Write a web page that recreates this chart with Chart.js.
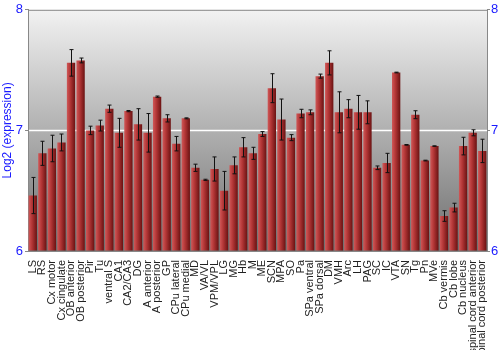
<!DOCTYPE html>
<html>
<head>
<meta charset="utf-8">
<script src="https://cdn.jsdelivr.net/npm/chart.js@4/dist/chart.umd.min.js"></script>
<style>
  html, body { margin: 0; padding: 0; background: #fff; }
  #wrap { width: 500px; height: 350px; }
</style>
</head>
<body>
<div id="wrap"><canvas id="chart"></canvas></div>
<script>
const regions = [
    'LS', 'RS', 'Cx motor', 'Cx cingulate', 'OB anterior', 'OB posterior', 'Pir', 'Tu',
    'ventral S', 'CA1', 'CA2/CA3', 'DG', 'A anterior', 'A posterior', 'GP', 'CPu lateral',
    'CPu medial', 'MD', 'VA/VL', 'VPM/VPL', 'LG', 'MG', 'Hb', 'M', 'ME', 'SCN', 'MPA', 'SO',
    'Pa', 'SPa ventral', 'SPa dorsal', 'DM', 'VMH', 'Arc', 'LH', 'PAG', 'SC', 'IC', 'VTA',
    'SN', 'Tg', 'Pn', 'MVe', 'Cb vermis', 'Cb lobe', 'Cb nucleus', 'spinal cord anterior',
    'spinal cord posterior'
];
const expression = [
    6.46, 6.81, 6.85, 6.90, 7.56, 7.58, 7.00, 7.04,
    7.18, 6.98, 7.16, 7.05, 6.98, 7.28, 7.10, 6.89,
    7.10, 6.69, 6.59, 6.68, 6.50, 6.71, 6.86, 6.81, 6.97, 7.35, 7.09, 6.94,
    7.14, 7.15, 7.45, 7.56, 7.15, 7.18, 7.15, 7.15, 6.69, 6.73, 7.48,
    6.88, 7.13, 6.75, 6.87, 6.29, 6.36, 6.87, 6.98,
    6.83
];
const stdErr = [
    0.15, 0.10, 0.11, 0.07, 0.11, 0.02, 0.035, 0.045,
    0.03, 0.12, 0.005, 0.13, 0.16, 0.005, 0.03, 0.06,
    0.004, 0.03, 0.005, 0.10, 0.16, 0.07, 0.08, 0.05, 0.02, 0.12, 0.17, 0.025,
    0.035, 0.02, 0.017, 0.10, 0.17, 0.075, 0.14, 0.095, 0.015, 0.08, 0.003,
    0.003, 0.033, 0.003, 0.002, 0.044, 0.036, 0.073, 0.025,
    0.097
];
const yTicks = [6, 7, 8];

const blue = '#1a1aff';
const frame = '#888888';
const barShare = 0.87;

// grey gradient behind the bars plus the white line at 7
const backdrop = {
    id: 'backdrop',
    beforeDraw(chart) {
        const { ctx, chartArea: a, scales } = chart;
        if (!a) return;
        const g = ctx.createLinearGradient(0, a.top, 0, a.bottom);
        g.addColorStop(0, '#f2f2f2');
        g.addColorStop(1, '#6e6e6e');
        ctx.save();
        ctx.fillStyle = g;
        ctx.fillRect(a.left, a.top, a.right - a.left, a.bottom - a.top);
        const y7 = scales.y.getPixelForValue(7);
        ctx.strokeStyle = '#ffffff';
        ctx.lineWidth = 1.5;
        ctx.beginPath();
        ctx.moveTo(a.left, y7);
        ctx.lineTo(a.right, y7);
        ctx.stroke();
        ctx.strokeStyle = frame;
        ctx.lineWidth = 1;
        ctx.beginPath();
        ctx.moveTo(a.left, a.top + 0.5);
        ctx.lineTo(a.right, a.top + 0.5);
        ctx.stroke();
        ctx.restore();
    }
};

// error bars drawn through the scales
const errorBars = {
    id: 'errorBars',
    afterDatasetsDraw(chart) {
        const { ctx, scales } = chart;
        ctx.save();
        ctx.strokeStyle = '#111111';
        ctx.lineWidth = 1;
        expression.forEach((v, i) => {
            const x = Math.round(scales.x.getPixelForValue(i)) + 0.5;
            const hi = scales.y.getPixelForValue(v + stdErr[i]);
            const lo = scales.y.getPixelForValue(v - stdErr[i]);
            ctx.beginPath();
            ctx.moveTo(x, hi);
            ctx.lineTo(x, lo);
            ctx.moveTo(x - 2, hi);
            ctx.lineTo(x + 2, hi);
            ctx.moveTo(x - 2, lo);
            ctx.lineTo(x + 2, lo);
            ctx.stroke();
        });
        ctx.restore();
    }
};

// horizontal shading on each bar, light on the left, dark on the right
function barFill(context) {
    const chart = context.chart;
    const xs = chart.scales && chart.scales.x;
    if (!chart.chartArea || !xs || !xs.width) return '#a83030';
    const w = xs.width / regions.length * barShare;
    const left = xs.getPixelForValue(context.dataIndex) - w / 2;
    const g = chart.ctx.createLinearGradient(left, 0, left + w, 0);
    g.addColorStop(0, '#d05858');
    g.addColorStop(0.4, '#b33636');
    g.addColorStop(1, '#6a1212');
    return g;
}

const ctx = document.getElementById('chart');
new Chart(ctx, {
    type: 'bar',
    data: {
        labels: regions,
        datasets: [{
            data: expression,
            backgroundColor: barFill,
            borderWidth: 0,
            barPercentage: barShare,
            categoryPercentage: 1.0,
            base: 6
        }]
    },
    options: {
        responsive: true,
        maintainAspectRatio: false,
        animation: false,
        layout: { padding: { top: 3, right: 0, left: 0, bottom: 0 } },
        plugins: {
            legend: { display: false },
            tooltip: { enabled: false }
        },
        scales: {
            x: {
                grid: { display: false },
                border: { color: frame },
                ticks: {
                    autoSkip: false,
                    minRotation: 90,
                    maxRotation: 90,
                    padding: 1,
                    color: '#222222',
                    font: { family: 'Liberation Sans, Arial, sans-serif', size: 11 }
                },
                afterFit(scale) { scale.height = 99; }
            },
            y: {
                position: 'left',
                min: 6,
                max: 8,
                afterBuildTicks(scale) { scale.ticks = yTicks.map(v => ({ value: v })); },
                grid: {
                    color: 'rgba(0,0,0,0)',
                    tickColor: frame,
                    tickLength: 3
                },
                border: { color: frame },
                ticks: {
                    color: blue,
                    padding: 2,
                    font: { family: 'Liberation Sans, Arial, sans-serif', size: 13 }
                },
                title: {
                    display: true,
                    text: 'Log2 (expression)',
                    color: blue,
                    padding: { top: 0, bottom: 4 },
                    font: { family: 'Liberation Sans, Arial, sans-serif', size: 12 }
                },
                afterFit(scale) { scale.width = 28; }
            },
            y2: {
                position: 'right',
                min: 6,
                max: 8,
                afterBuildTicks(scale) { scale.ticks = yTicks.map(v => ({ value: v })); },
                grid: {
                    drawOnChartArea: false,
                    tickColor: frame,
                    tickLength: 3
                },
                border: { color: frame },
                ticks: {
                    color: blue,
                    padding: 1,
                    font: { family: 'Liberation Sans, Arial, sans-serif', size: 13 }
                },
                afterFit(scale) { scale.width = 13; }
            }
        }
    },
    plugins: [backdrop, errorBars]
});
</script>
</body>
</html>
